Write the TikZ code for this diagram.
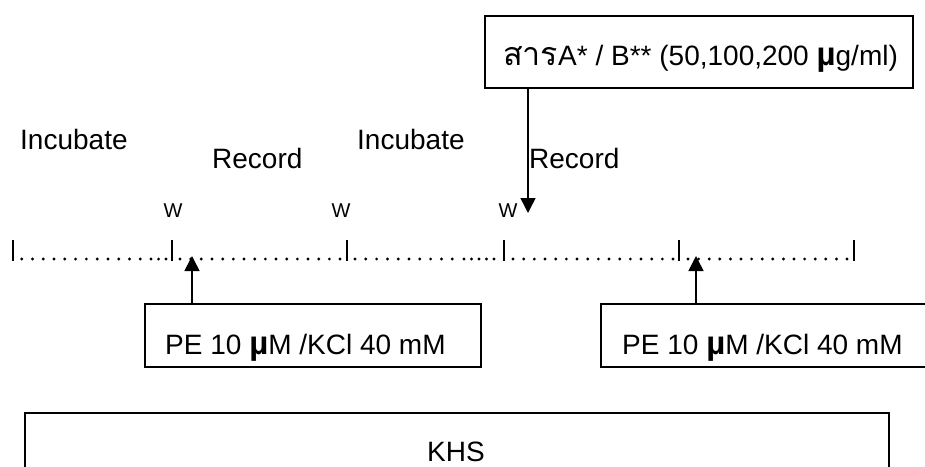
\documentclass[tikz,border=0pt]{standalone}
\usepackage{fontspec}
\setmainfont{Liberation Sans}
\newfontfamily\thaifont[Script=Thai,Scale=1.15]{Loma}
\usetikzlibrary{arrows.meta}
\newcommand\mymu{{\fontsize{33}{33}\selectfont\bfseries µ}}
\begin{document}
\begin{tikzpicture}[x=1pt,y=-1pt,
  txt/.style={inner sep=0pt, anchor=base west, font=\fontsize{28}{30}\selectfont},
  wlab/.style={inner sep=0pt, anchor=base, font=\fontsize{20}{22}\selectfont},
  boxn/.style={draw, line width=1.6pt, inner sep=0pt, anchor=north west},
  tickl/.style={line width=1.8pt},
  arr/.style={line width=1.5pt, -{Triangle[width=15pt,length=15pt]}}]
\useasboundingbox (0,0) rectangle (925,466);
% boxes
\node[boxn, minimum width=428pt, minimum height=72pt] (sub) at (484,15) {};
\node[txt] (subt) at (503,65) {{\thaifont สาร}A* / B** (50,100,200 \mymu g/ml)};
\node[boxn, minimum width=336pt, minimum height=63pt] (pe1) at (144,303) {};
\node[txt] (pe1t) at (165,354) {PE 10 \mymu M /KCl 40 mM};
\node[boxn, minimum width=340pt, minimum height=63pt] (pe2) at (600,303) {};
\node[txt] (pe2t) at (622,354) {PE 10 \mymu M /KCl 40 mM};
\node[boxn, minimum width=864pt, minimum height=90pt] (khs) at (24,412) {};
\node[txt, anchor=base] (khst) at (456,461) {KHS};
% labels
\node[txt] (inc1) at (20,149) {Incubate};
\node[txt] (rec1) at (212,168) {Record};
\node[txt] (inc2) at (357,149) {Incubate};
\node[txt] (rec2) at (529,168) {Record};
\node[wlab] (w1) at (173,217) {W};
\node[wlab] (w2) at (341,217) {W};
\node[wlab] (w3) at (508,217) {W};
% timeline ticks
\foreach \x in {13,172,347,504,679,854} \draw[tickl] (\x,240) -- (\x,261);
% dots
\foreach \k in {0,...,12} \fill ({21.7+10.78*\k},259) circle[radius=1.6pt];
\foreach \x in {158.6,166} \fill (\x,259) circle[radius=1.6pt];
\foreach \k in {0,...,15} \fill ({180+10.67*\k},259) circle[radius=1.6pt];
\foreach \k in {0,...,9} \fill ({355+10.8*\k},259) circle[radius=1.6pt];
\foreach \x in {464,471.5,479,486.5,494} \fill (\x,259) circle[radius=1.6pt];
\foreach \k in {0,...,15} \fill ({513+10.67*\k},259) circle[radius=1.6pt];
\foreach \k in {0,...,15} \fill ({688+10.6*\k},259) circle[radius=1.6pt];
% arrows
\coordinate (a1) at (192,256);
\coordinate (a2) at (696,256);
\coordinate (a3) at (528,213);
\draw[arr] (pe1.north -| a1) -- (a1);
\draw[arr] (pe2.north -| a2) -- (a2);
\draw[arr] (sub.south -| a3) -- (a3);
\end{tikzpicture}
\end{document}
